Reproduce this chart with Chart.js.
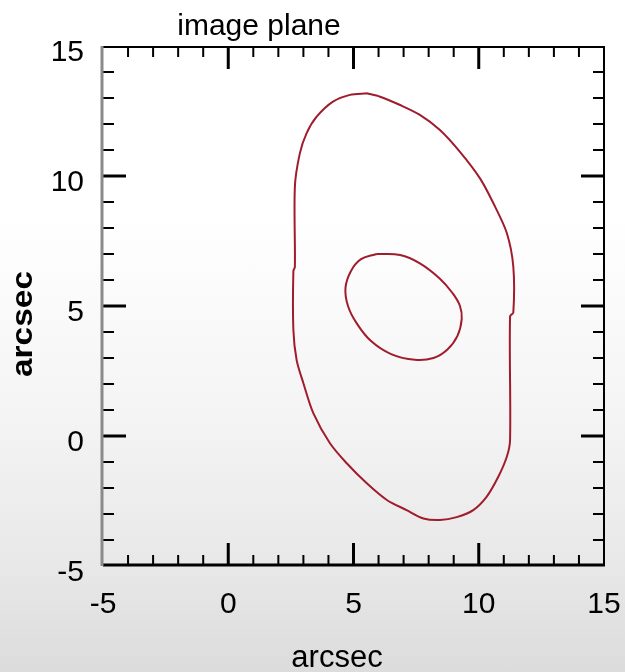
<!DOCTYPE html>
<html>
<head>
<meta charset="utf-8">
<script src="https://cdn.jsdelivr.net/npm/chart.js@4/dist/chart.umd.min.js"></script>
<style>
  html, body { margin:0; padding:0; }
  body { width:625px; height:672px; overflow:hidden;
    background: linear-gradient(to bottom, #ffffff 0%, #ffffff 32%, #f4f4f4 62%, #e8e8e8 84%, #dcdcdc 100%); }
  canvas { display:block; }
</style>
</head>
<body>
<canvas id="c" width="625" height="672"></canvas>
<script>
// ---- data (arcsec) ----
const titleText = 'image plane';
const xLabel = 'arcsec';
const yLabel = 'arcsec';
const xRange = [-5, 15];
const yRange = [-5, 15];
const tickStep = 5;

// outer critical curve
const outerX = [5.53, 6.06, 6.86, 7.65, 8.45, 9.25, 10.05, 10.58, 11.12, 11.38, 11.38, 11.25, 11.25, 11.12, 10.78, 10.32, 9.78, 9.12, 8.45, 7.79, 7.12, 6.33, 5.53, 4.73, 4.06, 3.40, 3.00, 2.73, 2.60, 2.60, 2.66, 2.66, 2.86, 3.13, 3.53, 4.18, 4.86, 5.53];
const outerY = [13.18, 13.05, 12.73, 12.35, 11.77, 10.93, 9.91, 8.96, 7.81, 6.51, 4.75, 4.60, -0.15, -0.80, -1.57, -2.33, -2.85, -3.12, -3.23, -3.17, -2.85, -2.46, -1.82, -1.05, -0.28, 0.87, 2.03, 2.92, 4.08, 6.35, 6.50, 9.59, 10.88, 11.65, 12.28, 12.86, 13.12, 13.18];

// inner curve
const innerX = [5.93, 6.86, 7.65, 8.45, 8.95, 9.25, 9.32, 9.15, 8.75, 8.19, 7.45, 6.50, 5.70, 5.13, 4.78, 4.68, 4.90, 5.30, 5.93];
const innerY = [7.00, 6.96, 6.64, 6.05, 5.50, 5.00, 4.50, 3.85, 3.33, 3.00, 2.93, 3.15, 3.65, 4.33, 5.00, 5.70, 6.35, 6.80, 7.00];

const toPts = (xs, ys) => xs.map((x, i) => ({x, y: ys[i]}));

const FONT = 'Liberation Sans, Arial, Helvetica, sans-serif';

const framePlugin = {
  id: 'frame',
  afterDraw(chart) {
    const {ctx, chartArea: a, scales: {x, y}} = chart;
    ctx.save();
    ctx.strokeStyle = '#000';
    for (let v = xRange[0] + 1; v < xRange[1]; v++) {
      const p = x.getPixelForValue(v);
      const major = v % tickStep === 0;
      const len = major ? 23 : 11;
      ctx.lineWidth = major ? 3 : 2;
      ctx.beginPath();
      ctx.moveTo(p, a.bottom); ctx.lineTo(p, a.bottom - len);
      ctx.moveTo(p, a.top); ctx.lineTo(p, a.top + len);
      ctx.stroke();
    }
    for (let v = yRange[0] + 1; v < yRange[1]; v++) {
      const p = y.getPixelForValue(v);
      const major = v % tickStep === 0;
      const len = major ? 23 : 11;
      ctx.lineWidth = major ? 3 : 2;
      ctx.beginPath();
      ctx.moveTo(a.left, p); ctx.lineTo(a.left + len, p);
      ctx.moveTo(a.right, p); ctx.lineTo(a.right - len, p);
      ctx.stroke();
    }
    ctx.lineWidth = 2;
    ctx.strokeStyle = '#000';
    ctx.beginPath(); ctx.moveTo(a.left, a.top + 1); ctx.lineTo(a.right + 1, a.top + 1); ctx.stroke();
    ctx.beginPath(); ctx.moveTo(a.right, a.top); ctx.lineTo(a.right, a.bottom); ctx.stroke();
    ctx.lineWidth = 3;
    ctx.beginPath(); ctx.moveTo(a.left, a.bottom - 1); ctx.lineTo(a.right + 1, a.bottom - 1); ctx.stroke();
    ctx.strokeStyle = '#8a8a8a';
    ctx.beginPath(); ctx.moveTo(a.left - 1, a.top); ctx.lineTo(a.left - 1, a.bottom); ctx.stroke();

    ctx.fillStyle = '#000';
    ctx.font = '30px ' + FONT;
    ctx.textAlign = 'center';
    ctx.textBaseline = 'alphabetic';
    ctx.fillText(titleText, 259, 35);
    ctx.font = '31px ' + FONT;
    ctx.fillText(xLabel, 337, 667);
    ctx.save();
    ctx.translate(32, 324);
    ctx.rotate(-Math.PI / 2);
    ctx.font = 'bold 30px ' + FONT;
    const w = ctx.measureText(yLabel).width;
    ctx.scale(106 / w, 1);
    ctx.fillText(yLabel, 0, 0);
    ctx.restore();
    ctx.restore();
  }
};

new Chart(document.getElementById('c'), {
  type: 'scatter',
  data: {
    datasets: [
      { data: toPts(outerX, outerY), showLine: true, borderColor: '#a01c2c', borderWidth: 2, pointRadius: 0, tension: 0.3, fill: false },
      { data: toPts(innerX, innerY), showLine: true, borderColor: '#a01c2c', borderWidth: 2, pointRadius: 0, tension: 0.4, fill: false }
    ]
  },
  options: {
    responsive: false,
    animation: false,
    events: [],
    layout: { padding: { top: 46, right: 21, bottom: 0, left: 0 } },
    plugins: { legend: { display: false }, tooltip: { enabled: false }, title: { display: false } },
    scales: {
      x: {
        type: 'linear', min: xRange[0], max: xRange[1],
        grid: { display: false, drawTicks: false },
        border: { display: false },
        ticks: { stepSize: tickStep, color: '#000', font: { family: FONT, size: 30 }, padding: 21, maxRotation: 0 },
        afterFit(s) { s.height = 106; s.paddingLeft = 0; s.paddingRight = 0; }
      },
      y: {
        type: 'linear', min: yRange[0], max: yRange[1],
        grid: { display: false, drawTicks: false },
        border: { display: false },
        ticks: { stepSize: tickStep, color: '#000', font: { family: FONT, size: 30 }, padding: 19, labelOffset: 7 },
        afterFit(s) { s.width = 103; s.paddingTop = 0; s.paddingBottom = 0; }
      }
    }
  },
  plugins: [framePlugin]
});
</script>
</body>
</html>
